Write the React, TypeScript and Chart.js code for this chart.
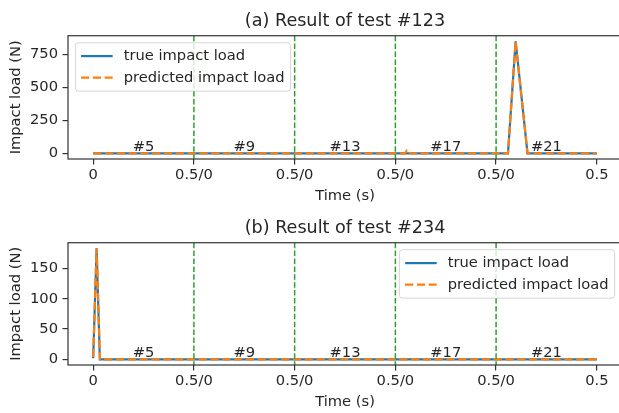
import React, { useEffect, useRef } from 'react';
import { Chart, registerables } from 'chart.js';
Chart.register(...registerables);

const FONT = '"DejaVu Sans", "Liberation Sans", sans-serif';
const TEXT = '#262626';

const xTickValues = [0, 0.5, 1.0, 1.5, 2.0, 2.5];
const xTickLabels = ['0', '0.5/0', '0.5/0', '0.5/0', '0.5/0', '0.5'];
const xRange = [-0.125, 2.625];
const boundaries = [0.5, 1.0, 1.5, 2.0];
const segmentCenters = [0.25, 0.75, 1.25, 1.75, 2.25];
const segmentLabels = ['#5', '#9', '#13', '#17', '#21'];
const seriesNames = ['true impact load', 'predicted impact load'];

// (a) test #123
const timeTrueA = [0, 2.059, 2.097, 2.156, 2.5];
const trueA = [0, 0, 848, 0, 0];
const timePredA = [0, 1.548, 1.556, 1.564, 2.059, 2.097, 2.156, 2.5];
const predA = [0, 0, 20, 0, 0, 848, 0, 0];
const yTicksA = [0, 250, 500, 750];
const yRangeA = [-42.4, 890.8];

// (b) test #234
const timeTrueB = [0, 0.017, 0.033, 2.5];
const trueB = [2, 183, 0, 0];
const timePredB = [0, 0.017, 0.034, 2.5];
const predB = [4, 183, 0, 0];
const yTicksB = [0, 50, 100, 150];
const yRangeB = [-9.15, 192.15];

const overlay = {
  id: 'overlay',
  afterDatasetsDraw(chart: any) {
    const ctx = chart.ctx;
    const { left, right, top, bottom } = chart.chartArea;
    const xs = chart.scales.x;
    const ys = chart.scales.y;
    ctx.save();
    ctx.beginPath();
    ctx.rect(left, top, right - left, bottom - top);
    ctx.clip();
    ctx.strokeStyle = '#2ca02c';
    ctx.lineWidth = 1.5;
    ctx.setLineDash([5.5, 2.4]);
    boundaries.forEach((b) => {
      const px = xs.getPixelForValue(b);
      ctx.beginPath();
      ctx.moveTo(px, top);
      ctx.lineTo(px, bottom);
      ctx.stroke();
    });
    ctx.setLineDash([]);
    ctx.fillStyle = TEXT;
    ctx.font = `14.7px ${FONT}`;
    ctx.textAlign = 'center';
    ctx.textBaseline = 'alphabetic';
    const y0 = ys.getPixelForValue(0);
    segmentCenters.forEach((c, i) => {
      ctx.fillText(segmentLabels[i], xs.getPixelForValue(c), y0 - 2.8);
    });
    ctx.restore();
  },
  afterDraw(chart: any, _args: any, opts: any) {
    const ctx = chart.ctx;
    const { left, right, top, bottom } = chart.chartArea;
    ctx.save();
    ctx.strokeStyle = '#333333';
    ctx.lineWidth = 1.2;
    ctx.strokeRect(left, top, right - left, bottom - top);
    const fs = 14.7;
    ctx.font = `${fs}px ${FONT}`;
    const ds = chart.data.datasets;
    let textW = 0;
    ds.forEach((d: any) => { textW = Math.max(textW, ctx.measureText(d.label).width); });
    const boxW = 54.3 + textW;
    const boxH = 48.4;
    const bx = opts.loc === 'right' ? right - 7.35 - boxW : left + 7.35;
    const by = top + 7.0;
    ctx.beginPath();
    if (ctx.roundRect) ctx.roundRect(bx, by, boxW, boxH, 3);
    else ctx.rect(bx, by, boxW, boxH);
    ctx.fillStyle = 'rgba(255,255,255,0.8)';
    ctx.fill();
    ctx.strokeStyle = 'rgba(204,204,204,0.8)';
    ctx.lineWidth = 1;
    ctx.stroke();
    const rows = [13.4, 35.0];
    ds.forEach((d: any, i: number) => {
      const ry = by + rows[i];
      ctx.beginPath();
      ctx.strokeStyle = d.borderColor;
      ctx.lineWidth = d.borderWidth;
      ctx.setLineDash(d.borderDash || []);
      ctx.moveTo(bx + 5.7, ry);
      ctx.lineTo(bx + 5.7 + 31.6, ry);
      ctx.stroke();
      ctx.setLineDash([]);
      ctx.fillStyle = TEXT;
      ctx.textAlign = 'left';
      ctx.textBaseline = 'middle';
      ctx.fillText(d.label, bx + 48.3, ry);
    });
    ctx.restore();
  },
};

type PanelProps = {
  title: string;
  tTrue: number[];
  vTrue: number[];
  tPred: number[];
  vPred: number[];
  yTicks: number[];
  yRange: number[];
  loc: string;
  height: number;
};

function Panel(p: PanelProps) {
  const ref = useRef<HTMLCanvasElement | null>(null);
  useEffect(() => {
    if (!ref.current) return;
    const chart = new Chart(ref.current, {
      type: 'line',
      data: {
        datasets: [
          {
            label: seriesNames[0],
            data: p.tTrue.map((t, i) => ({ x: t, y: p.vTrue[i] })),
            borderColor: '#1f77b4',
            borderWidth: 2.2,
            pointRadius: 0,
            tension: 0,
            fill: false,
            order: 2,
          },
          {
            label: seriesNames[1],
            data: p.tPred.map((t, i) => ({ x: t, y: p.vPred[i] })),
            borderColor: '#ff7f0e',
            borderWidth: 2.2,
            borderDash: [8.2, 3.6],
            pointRadius: 0,
            tension: 0,
            fill: false,
            order: 1,
          },
        ],
      },
      options: {
        responsive: false,
        maintainAspectRatio: false,
        animation: false,
        devicePixelRatio: 1,
        layout: { padding: { top: 0, left: 0, right: 3, bottom: 0 } },
        plugins: {
          legend: { display: false },
          tooltip: { enabled: false },
          title: {
            display: true,
            fullSize: false,
            text: p.title,
            color: TEXT,
            font: { size: 17.6, family: FONT, weight: 'normal' },
            padding: { top: 10.6, bottom: 4.0 },
          },
          overlay: { loc: p.loc },
        } as any,
        scales: {
          x: {
            type: 'linear',
            min: xRange[0],
            max: xRange[1],
            afterBuildTicks: (s: any) => {
              s.ticks = xTickValues.map((v) => ({ value: v }));
            },
            afterFit: (s: any) => { s.height = 48; },
            ticks: {
              autoSkip: false,
              maxRotation: 0,
              color: TEXT,
              padding: 2.0,
              font: { size: 14.7, family: FONT },
              callback: (v: any) => {
                const i = xTickValues.indexOf(Number(v));
                return i >= 0 ? xTickLabels[i] : '';
              },
            },
            grid: { display: true, drawOnChartArea: false, drawTicks: true, tickLength: 5.5, color: '#333333', lineWidth: 1.2 },
            border: { display: false },
            title: {
              display: true,
              text: 'Time (s)',
              color: TEXT,
              font: { size: 14.7, family: FONT },
              padding: { top: 2.9, bottom: 2.4 },
            },
          },
          y: {
            type: 'linear',
            min: p.yRange[0],
            max: p.yRange[1],
            afterBuildTicks: (s: any) => {
              s.ticks = p.yTicks.map((v) => ({ value: v }));
            },
            afterFit: (s: any) => { s.width = 68; },
            ticks: {
              color: TEXT,
              padding: 4.5,
              font: { size: 14.7, family: FONT },
              callback: (v: any) => String(v),
            },
            grid: { display: true, drawOnChartArea: false, drawTicks: true, tickLength: 5.5, color: '#333333', lineWidth: 1.2 },
            border: { display: false },
            title: {
              display: true,
              text: 'Impact load (N)',
              color: TEXT,
              font: { size: 14.7, family: FONT },
              padding: { top: 7.7, bottom: 4.6 },
            },
          },
        },
      } as any,
      plugins: [overlay as any],
    });
    return () => chart.destroy();
  }, []);
  return <canvas ref={ref} width={625} height={p.height} style={{ display: 'block', width: 625, height: p.height }} />;
}

export default function App() {
  return (
    <div style={{ position: 'fixed', left: 0, top: 0, width: 619, height: 413, overflow: 'hidden', background: '#fff' }}>
      <Panel title="(a) Result of test #123" tTrue={timeTrueA} vTrue={trueA} tPred={timePredA} vPred={predA}
        yTicks={yTicksA} yRange={yRangeA} loc="left" height={207} />
      <Panel title="(b) Result of test #234" tTrue={timeTrueB} vTrue={trueB} tPred={timePredB} vPred={predB}
        yTicks={yTicksB} yRange={yRangeB} loc="right" height={206} />
    </div>
  );
}
